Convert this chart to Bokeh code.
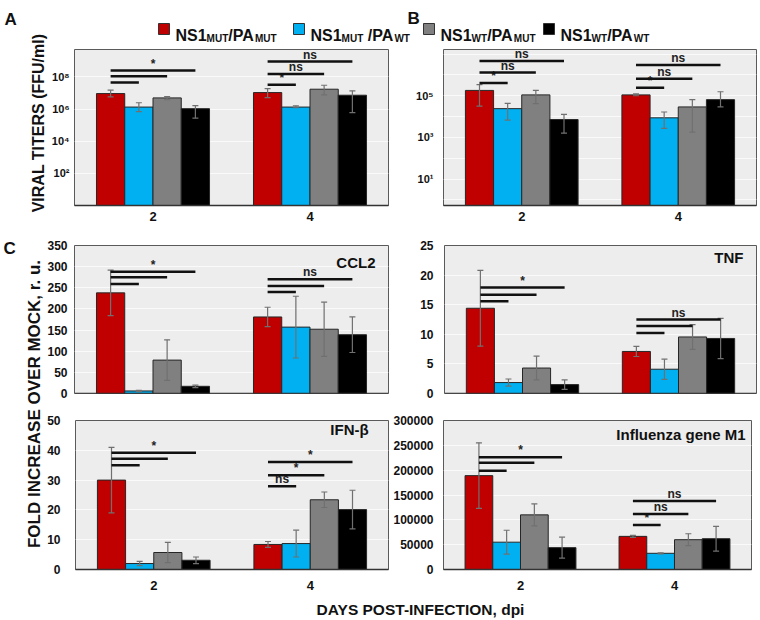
import math
from bokeh.plotting import figure
from bokeh.models import (ColumnDataSource, FactorRange, Range1d, FixedTicker,
                          CustomJSTickFormatter, BasicTickFormatter, Label, Span)
from bokeh.transform import dodge
from bokeh.layouts import row, column
from bokeh.embed import file_html
from bokeh.resources import INLINE
from bokeh.core.properties import value

FONT = "Liberation Sans"

# ---------------- data ----------------
days = ["2", "4"]
series = ["NS1MUT/PAMUT", "NS1MUT /PAWT", "NS1WT/PAMUT", "NS1WT/PAWT"]
legend_parts = [
    [("NS1", False), ("MUT", True), ("/PA", False), ("MUT", True)],
    [("NS1", False), ("MUT", True), (" /PA", False), ("WT", True)],
    [("NS1", False), ("WT", True), ("/PA", False), ("MUT", True)],
    [("NS1", False), ("WT", True), ("/PA", False), ("WT", True)],
]
colors = ["#C00000", "#00B0F0", "#808080", "#000000"]

# Panel A: viral titers (FFU/ml); per series [day2, day4]
a_mean = [[9.1e6, 1.05e7], [1.32e6, 1.32e6], [4.9e6, 1.7e7], [1.05e6, 7.2e6]]
a_lo = [[5.6e6, 5.1e6], [6.8e5, 1.2e6], [3.8e6, 7.6e6], [2.7e5, 5.9e5]]
a_hi = [[1.48e7, 1.86e7], [2.45e6, 1.58e6], [5.9e6, 3.0e7], [1.6e6, 1.35e7]]
a_sig = [[4.5e7, 1.07e8, 2.45e8], [3.2e7, 1.5e8, 8.9e8]]
a_sig_text = [["", "", "*"], ["*", "ns", "ns"]]
a_ticks = [1e2, 1e4, 1e6, 1e8]
a_tick_labels = ["10²", "10⁴", "10⁶", "10⁸"]

# Panel B
b_mean = [[1.8e5, 1.1e5], [2.4e4, 8.7e3], [1.1e5, 2.9e4], [7.2e3, 6.5e4]]
b_lo = [[3.2e4, 1.0e5], [6.8e3, 2.7e3], [4.2e4, 1.8e3], [1.6e3, 2.9e4]]
b_hi = [[3.4e5, 1.23e5], [4.3e4, 1.66e4], [1.8e5, 6.5e4], [1.26e4, 1.55e5]]
b_sig = [[4.1e5, 1.3e6, 4.7e6], [2.4e5, 6.6e5, 3.0e6]]
b_sig_text = [["*", "ns", "ns"], ["*", "ns", "ns"]]
b_ticks = [1e0, 1e1, 1e2, 1e3, 1e4, 1e5, 1e6, 1e7]
b_tick_labels = ["", "10¹", "", "10³", "", "10⁵", "", ""]

# Panel C: fold increase over mock (mean, sd)
ccl2_mean = [[238, 181], [6, 157], [79, 152], [17, 139]]
ccl2_sd = [[54, 23], [1.5, 73], [48, 64], [3, 42]]
ccl2_sig = [[259, 275, 288], [240, 254, 270]]
ccl2_sig_text = [["", "", "*"], ["", "", "ns"]]
ccl2_ticks = [0, 50, 100, 150, 200, 250, 300, 350]

tnf_mean = [[14.4, 7.1], [1.85, 4.1], [4.3, 9.55], [1.5, 9.3]]
tnf_sd = [[6.4, 0.85], [0.6, 1.7], [2.0, 2.1], [0.8, 3.4]]
tnf_sig = [[15.6, 16.7, 17.9], [10.2, 11.4, 12.5]]
tnf_sig_text = [["", "", "*"], ["", "", "ns"]]
tnf_ticks = [0, 5, 10, 15, 20, 25]

ifn_mean = [[30, 8.4], [2.0, 8.7], [5.7, 23.4], [3.1, 20.1]]
ifn_sd = [[11, 1.0], [0.7, 4.5], [3.4, 2.6], [1.1, 6.5]]
ifn_sig = [[35.0, 37.2, 39.2], [27.9, 31.6, 36.1]]
ifn_sig_text = [["", "", "*"], ["ns", "*", "*"]]
ifn_ticks = [0, 10, 20, 30, 40, 50]

m1_mean = [[189000, 66700], [55000, 32600], [110000, 60000], [44000, 62000]]
m1_sd = [[66000, 2000], [24000, 1000], [22000, 12000], [21000, 25000]]
m1_sig = [[199000, 215000, 226000], [89800, 111600, 138000]]
m1_sig_text = [["", "", "*"], ["*", "ns", "ns"]]
m1_ticks = [0, 50000, 100000, 150000, 200000, 250000, 300000]

# ---------------- styles ----------------
offsets = [-0.27, -0.09, 0.09, 0.27]
BAR_W = 0.18
BG = "#EDEDED"
GRID = "#FAFAFA"
OUTLINE = "#5A5A5A"
EDGE = "#262626"
ERR = "#707070"


def log_formatter(tv, tl):
    return CustomJSTickFormatter(args=dict(tv=tv, tl=tl), code="""
        for (let i = 0; i < tv.length; i++) {
            if (Math.abs(Math.log10(tick) - Math.log10(tv[i])) < 1e-6) return tl[i];
        }
        return "";
    """)


def make_panel(w, h, borders, y_range, log, mean, lo, hi, sig, sig_text, ticks,
               formatter, tick_size, y_standoff, show_x, x_standoff=7,
               title=None, inset=(0, 0)):
    bl, br, bt, bb = borders
    p = figure(width=w, height=h, x_range=FactorRange(factors=days), y_range=y_range,
               y_axis_type="log" if log else "linear", output_backend="svg",
               toolbar_location=None, min_border_left=bl, min_border_right=br,
               min_border_top=bt, min_border_bottom=bb,
               background_fill_color=BG, border_fill_color="white",
               outline_line_color=OUTLINE, outline_line_width=1)
    p.x_range.range_padding = 0
    base = y_range.start
    for s in range(4):
        src = ColumnDataSource(dict(day=days, top=mean[s], lo=lo[s], hi=hi[s]))
        xs = dodge("day", offsets[s], range=p.x_range)
        p.vbar(x=xs, top="top", bottom=base, width=BAR_W, source=src,
               fill_color=colors[s], line_color=EDGE, line_width=1)
        p.segment(x0=xs, y0="lo", x1=xs, y1="hi", source=src,
                  line_color=ERR, line_width=1.2)
        for col in ("lo", "hi"):
            p.scatter(x=xs, y=col, marker="dash", size=6, source=src,
                      line_color=ERR, line_width=1.2)
    for k in range(3):
        src = ColumnDataSource(dict(day=days, y=[sig[d][k] for d in range(2)],
                                    t=[sig_text[d][k] for d in range(2)]))
        p.segment(x0=dodge("day", offsets[0], range=p.x_range),
                  x1=dodge("day", offsets[k + 1], range=p.x_range),
                  y0="y", y1="y", source=src, line_color="#111111", line_width=2.5)
        p.text(x=dodge("day", (offsets[0] + offsets[k + 1]) / 2, range=p.x_range),
               y="y", text="t", source=src, text_align="center",
               text_baseline="bottom", text_font=value(FONT),
               text_font_style="bold", text_font_size="12px", text_color="#222222")

    ya = p.yaxis[0]
    ya.ticker = FixedTicker(ticks=ticks)
    ya.formatter = formatter
    ya.major_label_text_font = FONT
    ya.major_label_text_font_style = "bold"
    ya.major_label_text_font_size = tick_size
    ya.major_label_text_color = "#111111"
    ya.major_label_standoff = y_standoff
    ya.axis_line_color = None
    ya.major_tick_line_color = None
    ya.minor_tick_line_color = None
    ya.major_tick_out = 0
    ya.minor_tick_out = 0
    p.ygrid.grid_line_color = GRID
    p.ygrid.grid_line_width = 1
    p.xgrid.grid_line_color = None

    xa = p.xaxis[0]
    if show_x:
        xa.major_label_text_font = FONT
        xa.major_label_text_font_style = "bold"
        xa.major_label_text_font_size = "13px"
        xa.major_label_text_color = "#111111"
        xa.major_label_standoff = x_standoff
        xa.major_tick_line_color = None
        xa.major_tick_out = 0
        xa.axis_line_color = "#333333"
        xa.axis_line_width = 1.5
    else:
        xa.visible = False
        p.add_layout(Span(location=base, dimension="width",
                          line_color="#333333", line_width=1.5))

    if title:
        fw = w - bl - br
        fh = h - bt - bb
        ir, it = inset
        y0, y1 = y_range.start, y_range.end
        ty = y1 - (it / fh) * (y1 - y0)
        p.add_layout(Label(x=2 * (1 - ir / fw), y=ty, text=title, text_align="right",
                           text_baseline="top", text_font=FONT, text_font_style="bold",
                           text_font_size="15px", text_color="#111111"))
    return p


def lin(mean, sd, sign):
    return [[m + sign * e for m, e in zip(ms, es)] for ms, es in zip(mean, sd)]


# ---------------- panels ----------------
figA = make_panel(342, 184, (24, 2, 5, 23), Range1d(1, 10 ** 9.7), True,
                  a_mean, a_lo, a_hi, a_sig, a_sig_text, a_ticks,
                  log_formatter(a_ticks, a_tick_labels), "11px", 5, True, 6)
figB = make_panel(368, 184, (53, 2, 5, 23), Range1d(10 ** -0.27, 10 ** 7.22), True,
                  b_mean, b_lo, b_hi, b_sig, b_sig_text, b_ticks,
                  log_formatter(b_ticks, b_tick_labels), "11px", 10, True, 6)

fmt = lambda: BasicTickFormatter(use_scientific=False)
ccl2 = make_panel(346, 177, (30, 2, 17, 12), Range1d(0, 350), False,
                  ccl2_mean, lin(ccl2_mean, ccl2_sd, -1), lin(ccl2_mean, ccl2_sd, 1),
                  ccl2_sig, ccl2_sig_text, ccl2_ticks, fmt(), "12px", 7, False,
                  title="CCL2", inset=(13, 8))
tnf = make_panel(368, 177, (54, 2, 17, 12), Range1d(0, 25), False,
                 tnf_mean, lin(tnf_mean, tnf_sd, -1), lin(tnf_mean, tnf_sd, 1),
                 tnf_sig, tnf_sig_text, tnf_ticks, fmt(), "12px", 11, False,
                 title="TNF", inset=(13, 3))
ifn = make_panel(346, 194, (29, 2, 15, 30), Range1d(0, 50), False,
                 ifn_mean, lin(ifn_mean, ifn_sd, -1), lin(ifn_mean, ifn_sd, 1),
                 ifn_sig, ifn_sig_text, ifn_ticks, fmt(), "12px", 15, True, 11,
                 title="IFN-β", inset=(20, 0))
m1 = make_panel(368, 194, (52, 7, 15, 30), Range1d(0, 300000), False,
                m1_mean, lin(m1_mean, m1_sd, -1), lin(m1_mean, m1_sd, 1),
                m1_sig, m1_sig_text, m1_ticks, fmt(), "12px", 10, True, 11,
                title="Influenza gene M1", inset=(6, 5))


# ---------------- auxiliary canvases (letters, legend, shared labels) ----------------
def aux(w, h):
    p = figure(width=w, height=h, x_range=Range1d(0, w), y_range=Range1d(0, h),
               output_backend="svg", toolbar_location=None, x_axis_location=None,
               y_axis_location=None, min_border=0, outline_line_color=None,
               border_fill_color="white", background_fill_color="white")
    p.grid.visible = False
    return p


def put_text(p, x, y_from_top, txt, size, align="left", baseline="alphabetic", angle=0.0):
    p.text(x=[x], y=[p.height - y_from_top], text=[txt], angle=angle,
           text_align=align, text_baseline=baseline, text_font=value(FONT),
           text_font_style="bold", text_font_size=f"{size}px", text_color="#111111")


AW = {"N": 722, "S": 667, "1": 556, "/": 278, "P": 667, "A": 722, "M": 833,
      "U": 722, "T": 611, "W": 944, " ": 278}


def text_w(s, size):
    return sum(AW[c] for c in s) * size / 1000.0


# top-left strip: panel letter A and the y title of panel A
strip_top = aux(48, 228)
put_text(strip_top, 4, 19, "A", 17)
put_text(strip_top, 38, 122.5, "VIRAL TITERS (FFU/ml)", 16,
         align="center", baseline="middle", angle=math.pi / 2)

# header: letter B and the shared legend
header = aux(710, 44)
put_text(header, 359, 17.5, "B", 17)
legend_left = [110, 245, 375, 495]
for i, parts in enumerate(legend_parts):
    x = legend_left[i]
    header.scatter(x=[x + 5.5], y=[header.height - 28.5], marker="square", size=11,
                   fill_color=colors[i], line_color="#333333", line_width=1)
    x += 17
    for txt, sub in parts:
        size = 10 if sub else 16
        lead = len(txt) - len(txt.lstrip(" "))
        x += text_w(" " * lead, size)
        body = txt.lstrip(" ")
        put_text(header, x, 37.5 if sub else 34.5, body, size)
        x += text_w(body, size)

# lower-left strip: panel letter C and shared y title
strip_c = aux(44, 371)
put_text(strip_c, 3, 20, "C", 17)
put_text(strip_c, 33.5, 175.5, "FOLD INCREASE OVER MOCK, r. u.", 17,
         align="center", baseline="middle", angle=math.pi / 2)

xlab = aux(758, 20)
put_text(xlab, 420, 10, "DAYS POST-INFECTION, dpi", 15.5, align="center", baseline="middle")

layout = column(
    row(strip_top, column(header, row(figA, figB, spacing=0), spacing=0), spacing=0),
    row(strip_c, column(row(ccl2, tnf, spacing=0), row(ifn, m1, spacing=0), spacing=0), spacing=0),
    xlab,
    spacing=0,
)

open("out.html", "w").write(file_html(layout, INLINE, title="Viral titers and fold increase"))
